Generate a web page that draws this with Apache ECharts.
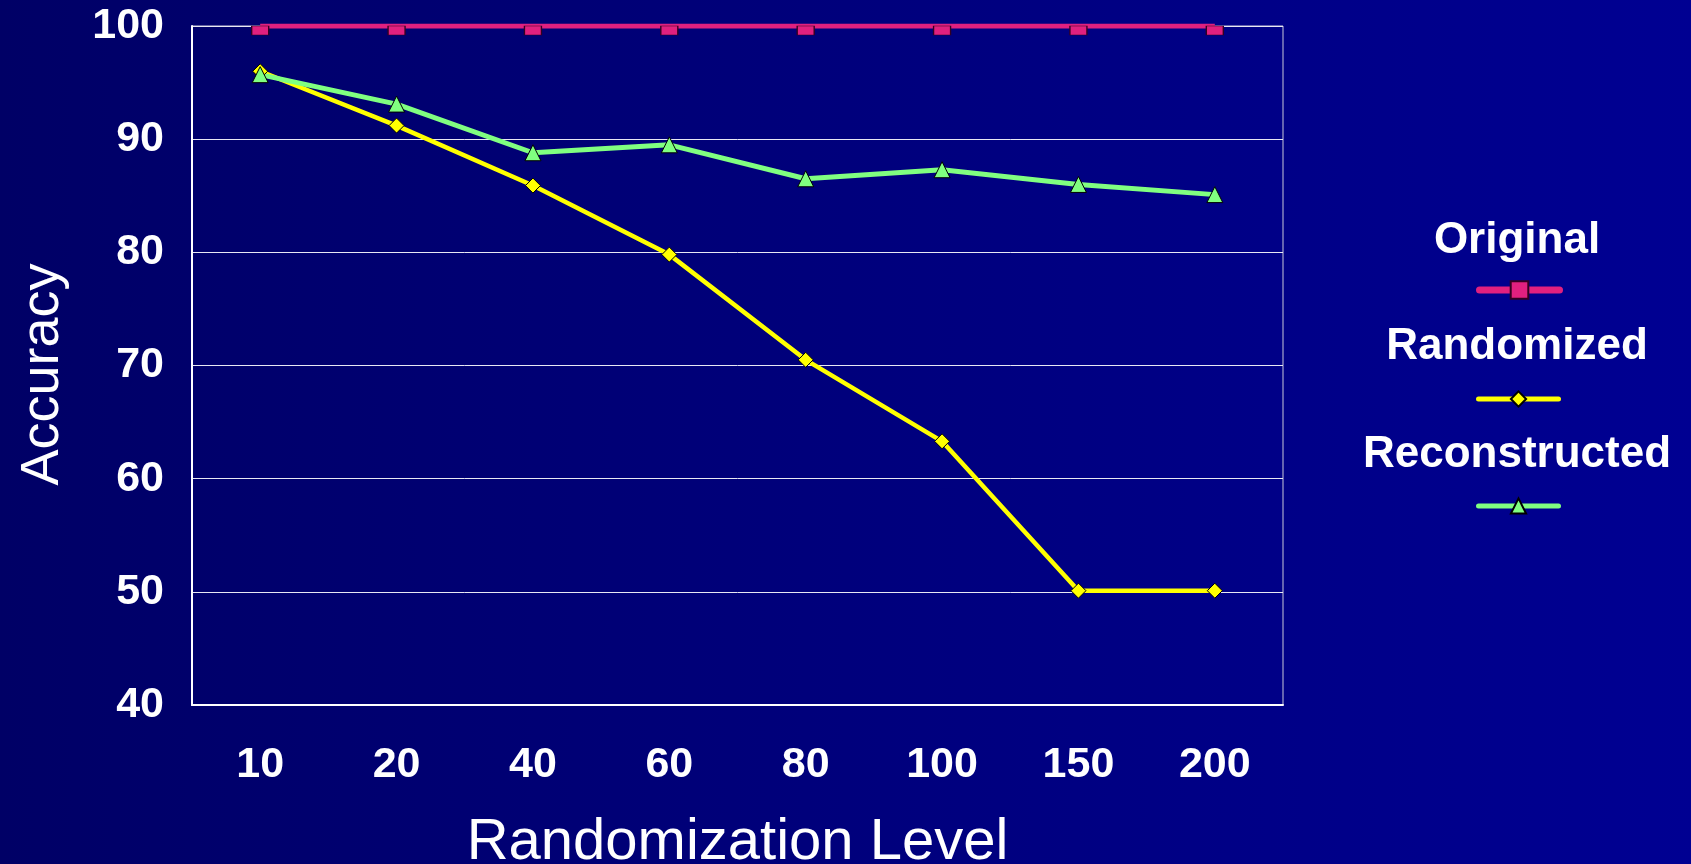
<!DOCTYPE html>
<html>
<head>
<meta charset="utf-8">
<script src="https://cdn.jsdelivr.net/npm/echarts@6/dist/echarts.min.js"></script>
<style>
html,body{margin:0;padding:0;width:1691px;height:864px;overflow:hidden;background:linear-gradient(to right,#000066,#000092);}
#c{width:1691px;height:864px;}
</style>
</head>
<body>
<div id="c"></div>
<script>
const categories = ['10','20','40','60','80','100','150','200'];
const seriesNames = ['Original','Randomized','Reconstructed'];
const original = [100,100,100,100,100,100,100,100];
const randomized = [96.0,91.2,85.9,79.8,70.5,63.3,50.1,50.1];
const reconstructed = [95.7,93.1,88.8,89.5,86.5,87.3,86.0,85.1];
const yTicks = {min:40, max:100, interval:10};
const xTitle = 'Randomization Level';
const yTitle = 'Accuracy';

const FONT = "'Liberation Sans', Arial, sans-serif";
const chart = echarts.init(document.getElementById('c'), null, {renderer:'canvas'});

const legendCenters = [290, 399, 506];
const labelCenters = [241, 347, 455];
const legendH = [22, 19, 19];
const legendLW = [7, 5, 5];

const legends = seriesNames.map((n,i)=>({
  data:[n],
  left: 1476,
  top: legendCenters[i] - legendH[i]/2,
  padding: 0,
  itemWidth: 80,
  itemHeight: legendH[i],
  itemGap: 0,
  selectedMode: false,
  formatter: function(){return '';},
  lineStyle: {width: legendLW[i], cap:'round'}
}));

chart.setOption({
  backgroundColor: 'transparent',
  animation: false,
  grid: {left:192, right:408, top:26, bottom:159, show:true, borderColor:'#c8c8d8', borderWidth:1,
         containLabel:false, outerBoundsMode:'none'},
  legend: legends,
  graphic: seriesNames.map((n,i)=>({
    type:'text',
    style:{text:n, x:1517, y:labelCenters[i], textAlign:'center', textVerticalAlign:'middle', fill:'#ffffff', font:'bold 44px '+FONT}
  })),
  xAxis: {
    type:'category', data: categories, boundaryGap:true,
    axisLine:{show:true, lineStyle:{color:'#ffffff', width:2}},
    axisTick:{show:false},
    axisLabel:{color:'#ffffff', fontSize:43, fontWeight:'bold', fontFamily:FONT, margin:39},
    name: xTitle, nameLocation:'middle', nameGap:109,
    nameTextStyle:{color:'#ffffff', fontSize:58, fontFamily:FONT}
  },
  yAxis: {
    type:'value', min:yTicks.min, max:yTicks.max, interval:yTicks.interval,
    axisLine:{show:true, lineStyle:{color:'#ffffff', width:2}},
    axisTick:{show:false},
    splitLine:{show:true, lineStyle:{color:'#e8e8f4', width:1}},
    axisLabel:{color:'#ffffff', fontSize:43, fontWeight:'bold', fontFamily:FONT, margin:28},
    name: yTitle, nameLocation:'middle', nameGap:122, nameRotate:90,
    nameTextStyle:{color:'#ffffff', fontSize:54, fontFamily:FONT, padding:[0,18,0,0]}
  },
  series: [
    {name:seriesNames[0], type:'line', data:original,
     symbol:'path://M0,0L2,0L2,1L0,1Z', symbolSize:[17,9], symbolOffset:[0,4.5],
     lineStyle:{color:'#e0207f', width:5},
     itemStyle:{color:'#e0207f', borderColor:'#330022', borderWidth:1}, z:3},
    {name:seriesNames[1], type:'line', data:randomized,
     symbol:'diamond', symbolSize:15,
     lineStyle:{color:'#ffff00', width:4.5},
     itemStyle:{color:'#ffff00', borderColor:'#000000', borderWidth:1}, z:2},
    {name:seriesNames[2], type:'line', data:reconstructed,
     symbol:'triangle', symbolSize:16,
     lineStyle:{color:'#80ff80', width:5},
     itemStyle:{color:'#80ff80', borderColor:'#000000', borderWidth:1}, z:2}
  ]
});
</script>
</body>
</html>
